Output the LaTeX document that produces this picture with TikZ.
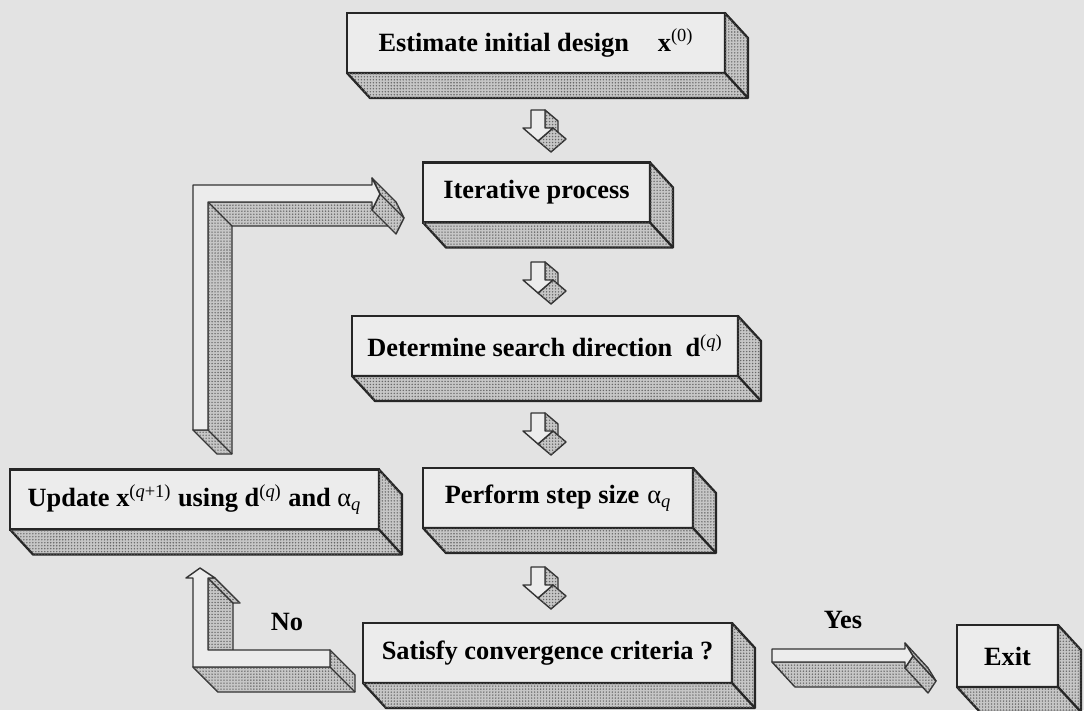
\documentclass[tikz,border=0pt]{standalone}
\usepackage{fontspec}
\setmainfont{Liberation Serif}
\usetikzlibrary{patterns.meta}
\definecolor{pagegray}{HTML}{E3E3E3}
\definecolor{facegray}{HTML}{ECECEC}
\definecolor{dotgray}{HTML}{C6C6C6}
\tikzset{
  slab/.style={draw=black!85,line width=1.3pt,fill=facegray,minimum height=1.2cm,inner sep=0pt,outer sep=0pt,font=\fontsize{15}{18}\selectfont\bfseries},
  dotface/.style={fill=dotgray,line join=round,postaction={pattern={Dots[distance=1.7pt,radius=0.45pt]},pattern color=black!60}},
  slabside/.style={dotface,draw=black!85,line width=1.3pt},
  slabedge/.style={draw=black!85,line width=1.3pt},
  arrowface/.style={draw=black!80,line width=0.8pt,fill=facegray,line join=round},
  arrowside/.style={dotface,draw=black!80,line width=0.8pt},
  arrowedge/.style={draw=black!80,line width=0.8pt},
  branchlbl/.style={font=\fontsize{15}{18}\selectfont\bfseries},
}
% bottom and right faces of a slab, depth (23,25)
\newcommand{\slabfaces}[1]{%
  \draw[slabside] (#1.south west) -- ([shift={(23,25)}]#1.south west) -- ([shift={(23,25)}]#1.south east) -- ([shift={(23,25)}]#1.north east) -- (#1.north east) -- (#1.south east) -- cycle;
  \draw[slabedge] (#1.south east) -- ++(23,25);}
% small down arrow, #1 = top middle of the shaft
\newcommand{\stepdown}[1]{%
  \draw[arrowside] ([shift={(7,0)}]#1) -- ++(13,11) -- ++(0,18) -- ++(-13,-11) -- cycle;
  \draw[arrowside] ([shift={(15,18)}]#1) -- ++(-15,13) -- ++(13,11) -- ++(15,-13) -- cycle;
  \draw[arrowface] ([shift={(-7,0)}]#1) -- ++(14,0) -- ++(0,18) -- ++(8,0) -- ++(-15,13) -- ++(-15,-13) -- ++(8,0) -- cycle;}

\begin{document}
\begin{tikzpicture}[x=0.02cm,y=-0.02cm]
  \fill[pagegray] (0,0) rectangle (1084,710);
  \useasboundingbox (0,0) rectangle (1084,710);

  \node[slab,minimum width=7.56cm] (init) at (536,43) {Estimate initial design\hspace{1.1em}x\textsuperscript{\mdseries(0)}};
  \node[slab,minimum width=4.54cm] (iter) at (536.5,192.5) {Iterative process};
  \node[slab,minimum width=7.72cm] (search) at (545,346) {Determine search direction\hspace{0.5em}d\textsuperscript{\mdseries(\textit{q})}};
  \node[slab,minimum width=7.38cm] (update) at (194.5,499.5) {Update x\textsuperscript{\mdseries(\textit{q}+1)} using d\textsuperscript{\mdseries(\textit{q})} and {\mdseries α}\textsubscript{\mdseries\textit{q}}};
  \node[slab,minimum width=5.4cm] (stepsize) at (558,498) {Perform step size\hspace{0.3em}{\mdseries α}\textsubscript{\mdseries\textit{q}}};
  \node[slab,minimum width=7.38cm] (conv) at (547.5,653) {Satisfy convergence criteria ?};
  \node[slab,minimum width=2.02cm,minimum height=1.24cm] (exit) at (1007.5,656) {Exit};
  \foreach \n in {init,iter,search,update,stepsize,conv,exit} {\slabfaces{\n}}

  \coordinate (tick1) at (538,110);
  \coordinate (tick2) at (538,262);
  \coordinate (tick3) at (538,413);
  \coordinate (tick4) at (538,567);
  \foreach \t in {tick1,tick2,tick3,tick4} {\stepdown{\t}}

  % loop back to the iterative process
  \draw[arrowside] (193,430) -- (217,454) -- (232,454) -- (232,226) -- (396,226) -- (372,202) -- (208,202) -- (208,430) -- cycle;
  \draw[arrowedge] (208,202) -- (232,226) (208,430) -- (232,454);
  \draw[arrowside] (372,178) -- (380,194) -- (372,210) -- (396,234) -- (404,218) -- (396,202) -- cycle;
  \draw[arrowedge] (380,194) -- (404,218);
  \draw[arrowface] (193,430) -- (193,185) -- (372,185) -- (372,178) -- (380,194) -- (372,210) -- (372,202) -- (208,202) -- (208,430) -- cycle;

  % no branch
  \draw[arrowside] (208,578) -- (215,578) -- (240,603) -- (233,603) -- (233,675) -- (208,650) -- cycle;
  \draw[arrowedge] (208,578) -- (233,603);
  \draw[arrowside] (193,667) -- (218,692) -- (355,692) -- (355,675) -- (330,650) -- (330,667) -- cycle;
  \draw[arrowedge] (330,667) -- (355,692);
  \draw[arrowface] (193,667) -- (193,578) -- (186,578) -- (200,568) -- (215,578) -- (208,578) -- (208,650) -- (330,650) -- (330,667) -- cycle;
  \node[branchlbl] (nolbl) at (287,622) {No};

  % yes branch
  \draw[arrowside] (772,662) -- (795,687) -- (928,687) -- (905,662) -- cycle;
  \draw[arrowside] (905,643) -- (913,656) -- (905,668) -- (928,693) -- (936,681) -- (928,668) -- cycle;
  \draw[arrowedge] (913,656) -- (936,681);
  \draw[arrowface] (772,649) -- (905,649) -- (905,643) -- (913,656) -- (905,668) -- (905,662) -- (772,662) -- cycle;
  \node[branchlbl] (yeslbl) at (843,620) {Yes};
\end{tikzpicture}
\end{document}
